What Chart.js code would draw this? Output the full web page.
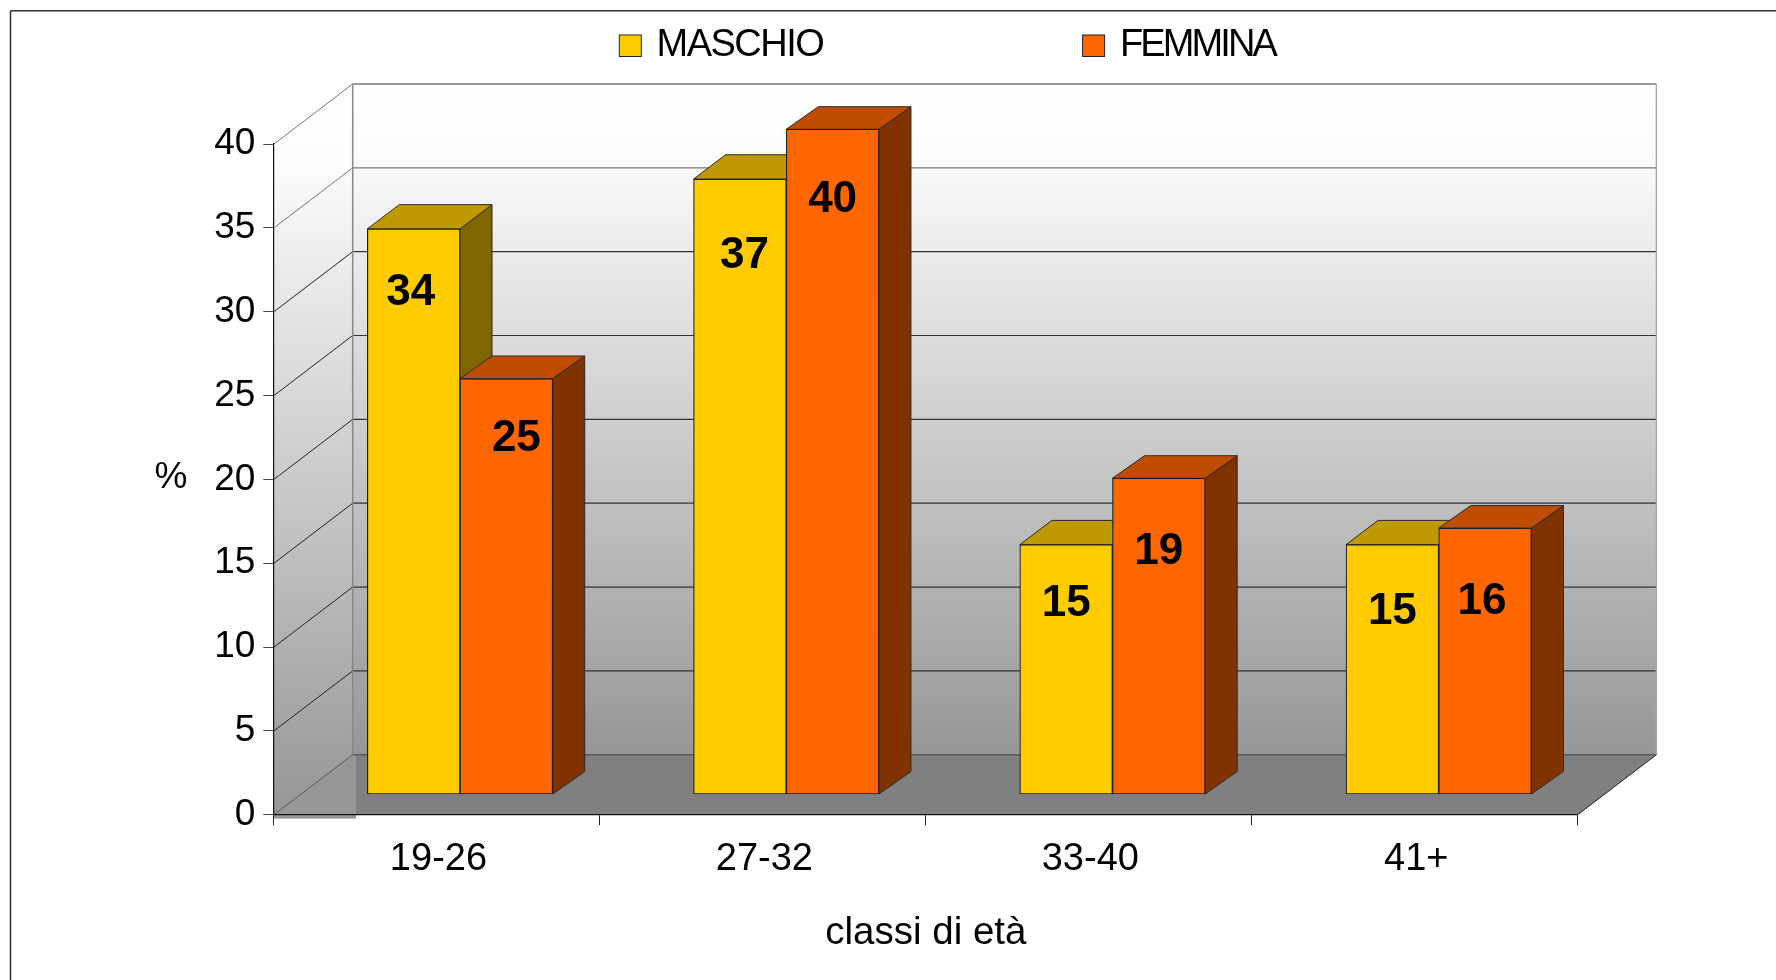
<!DOCTYPE html>
<html>
<head>
<meta charset="utf-8">
<style>html,body{margin:0;padding:0;background:#fff}canvas{display:block}</style>
<script src="https://cdn.jsdelivr.net/npm/chart.js@4/dist/chart.umd.min.js"></script>
</head>
<body>
<canvas id="c" width="1776" height="980"></canvas>
<script>
const categories = ["19-26", "27-32", "33-40", "41+"];
const maschio = [34, 37, 15, 15];
const femmina = [25, 40, 19, 16];
const seriesNames = ["MASCHIO", "FEMMINA"];
const axisTitleX = "classi di età";
const axisTitleY = "%";

const FONT = '"Liberation Sans", Arial, sans-serif';
const WALL = { dx: 78.7, dy: -60 };
const FACE = [{ dx: 32, dy: -24.3 }, { dx: 32, dy: -22.5 }];
const FILL = ["#FFCC00", "#FF6600"];
const TOP = ["#BF9900", "#BF4D00"];
const SIDE = ["#806600", "#803300"];
const LABEL_NUDGE = [
  [[-3, 61], [4.5, 74.7], [0, 56.7], [0, 65]],
  [[10, 58], [0, 68.3], [0, 71], [-3, 71]]
];
const LEGEND_POS = [
  { box: 619.3, text: 656.5, spacing: "-1.5px" },
  { box: 1082.6, text: 1120, spacing: "-2.9px" }
];

function poly(ctx, pts, fill, stroke, lw) {
  ctx.beginPath();
  pts.forEach((p, i) => i ? ctx.lineTo(p[0], p[1]) : ctx.moveTo(p[0], p[1]));
  ctx.closePath();
  if (fill) { ctx.fillStyle = fill; ctx.fill(); }
  if (stroke) { ctx.strokeStyle = stroke; ctx.lineWidth = lw || 1; ctx.stroke(); }
}
function line(ctx, a, b, color, lw) {
  ctx.beginPath(); ctx.moveTo(a[0], a[1]); ctx.lineTo(b[0], b[1]);
  ctx.strokeStyle = color; ctx.lineWidth = lw || 1; ctx.stroke();
}
function wallGradient(ctx, y0, y1) {
  const g = ctx.createLinearGradient(0, y0, 0, y1);
  g.addColorStop(0, "#ffffff");
  g.addColorStop(0.1, "#fcfcfc");
  g.addColorStop(1, "#969696");
  return g;
}

const scenePlugin = {
  id: "scene",
  beforeDraw(chart) {
    const { ctx, chartArea: a, scales: { y } } = chart;
    const w = chart.width, h = chart.height;
    ctx.save();
    ctx.fillStyle = "#fff"; ctx.fillRect(0, 0, w, h);
    line(ctx, [10.5, h], [10.5, 10.75], "#333", 1.5);
    line(ctx, [10.5, 10.75], [w, 10.75], "#333", 1.5);

    const L = a.left, R = a.right, T = y.getPixelForValue(40), B = y.getPixelForValue(0);
    const bL = L + WALL.dx, bR = R + WALL.dx, bT = T + WALL.dy, bB = B + WALL.dy;
    poly(ctx, [[bL, bT], [bR, bT], [bR, bB], [bL, bB]], wallGradient(ctx, bT, bB));
    poly(ctx, [[bL, bB], [bR, bB], [R, B], [L, B]], "#808080");
    ctx.fillStyle = "#979797";
    ctx.fillRect(L, bB + 0.5, 82, B + 4 - bB - 0.5);
    poly(ctx, [[L, T], [bL, bT], [bL, bB], [L, B]], wallGradient(ctx, bT + 5, B));

    y.ticks.forEach(t => {
      const py = y.getPixelForValue(t.value);
      const edge = t.value === 40 || t.value === 35;
      const c = t.value === 0 ? "#555" : (edge ? "#777" : "#222");
      line(ctx, [L, py], [bL, py + WALL.dy], c, 1);
      if (t.value > 0) line(ctx, [bL, py + WALL.dy], [bR, py + WALL.dy], edge ? "#777" : "#333", t.value === 40 ? 1.5 : 1.2);
    });
    line(ctx, [bL, bB], [bR, bB], "#5a5a5a", 1.5);
    line(ctx, [bL, bT], [bL, bB], "#888", 1.5);
    line(ctx, [bR, bT], [bR, bB], "#aaa", 1.5);
    line(ctx, [bR, bB], [R, B], "#222", 1);

    // % label
    ctx.fillStyle = "#000";
    ctx.font = "37px " + FONT;
    ctx.textAlign = "center"; ctx.textBaseline = "middle";
    ctx.fillText(axisTitleY, 171, 477.5);

    // legend
    chart.data.datasets.forEach((ds, i) => {
      const p = LEGEND_POS[i];
      ctx.fillStyle = ds.backgroundColor;
      ctx.fillRect(p.box, 35, 22, 21.5);
      ctx.strokeStyle = "#222"; ctx.lineWidth = 1;
      ctx.strokeRect(p.box, 35, 22, 21.5);
      ctx.fillStyle = "#000";
      ctx.font = "38px " + FONT;
      ctx.textAlign = "left"; ctx.textBaseline = "alphabetic";
      ctx.letterSpacing = p.spacing;
      ctx.fillText(ds.label, p.text, 55.7);
      ctx.letterSpacing = "0px";
    });
    ctx.restore();
  },
  beforeDatasetsDraw(chart) {
    const { ctx } = chart;
    ctx.save();
    ctx.lineJoin = "round";
    categories.forEach((_, idx) => {
      [0, 1].forEach(di => {
        const el = chart.getDatasetMeta(di).data[idx];
        const half = el.width / 2;
        const l = el.x - half, r = el.x + half, t = el.y, b = el.base;
        const { dx, dy } = FACE[di];
        poly(ctx, [[r, t], [r + dx, t + dy], [r + dx, b + dy], [r, b]], SIDE[di], "#2a2a2a", 1);
        poly(ctx, [[l, t], [l + dx, t + dy], [r + dx, t + dy], [r, t]], TOP[di], "#2a2a2a", 1);
      });
    });
    ctx.restore();
  },
  afterDatasetsDraw(chart) {
    const { ctx } = chart;
    ctx.save();
    ctx.fillStyle = "#000";
    ctx.font = "bold 44px " + FONT;
    ctx.textAlign = "center"; ctx.textBaseline = "middle";
    chart.data.datasets.forEach((ds, di) => {
      chart.getDatasetMeta(di).data.forEach((el, i) => {
        const n = LABEL_NUDGE[di][i];
        ctx.fillText(String(ds.data[i].y), el.x + n[0], el.y + n[1] + 2.5);
      });
    });
    ctx.restore();
  }
};

new Chart(document.getElementById("c"), {
  type: "bar",
  data: {
    labels: categories,
    datasets: [maschio, femmina].map((vals, d) => ({
      label: seriesNames[d],
      data: categories.map((_, i) => ({ x: i, y: vals[i] })),
      backgroundColor: FILL[d],
      borderColor: "#1e1e1e",
      borderWidth: 1.2,
      borderSkipped: false,
      barThickness: 92.7,
      xAxisID: "xBars",
      yAxisID: "yBars",
      clip: false
    }))
  },
  plugins: [scenePlugin],
  options: {
    responsive: false,
    animation: false,
    events: [],
    layout: { padding: { top: 144, right: 198.3, left: 0, bottom: 0 } },
    plugins: { legend: { display: false }, tooltip: { enabled: false }, title: { display: false } },
    scales: {
      x: {
        type: "category",
        offset: true,
        grid: { offset: true, drawOnChartArea: false, drawTicks: true, tickLength: 10.5, color: "#222", lineWidth: 1 },
        border: { display: true, color: "#111", width: 1.2 },
        ticks: { color: "#000", font: { family: FONT, size: 38 }, padding: 12, labelOffset: 1.5, maxRotation: 0, minRotation: 0, autoSkip: false },
        title: { display: true, text: axisTitleX, color: "#000", font: { family: FONT, size: 38.5 }, padding: { top: 0, bottom: 24 } },
        afterFit(s) { s.height = 165.3; }
      },
      y: {
        type: "linear",
        position: "left",
        min: 0,
        max: 40,
        grid: { drawOnChartArea: false, drawTicks: true, tickLength: 10.7, color: "#444", lineWidth: 1 },
        border: { display: true, color: "#111", width: 1.2 },
        ticks: { stepSize: 5, color: "#000", font: { family: FONT, size: 37 }, padding: 8 },
        afterFit(s) { s.width = 274; }
      },
      xBars: { type: "linear", display: false, offset: false, min: -0.5702, max: 3.426, grid: { display: false } },
      yBars: { type: "linear", display: false, min: -1.2455, max: 39.11, grid: { display: false } }
    }
  }
});
</script>
</body>
</html>
